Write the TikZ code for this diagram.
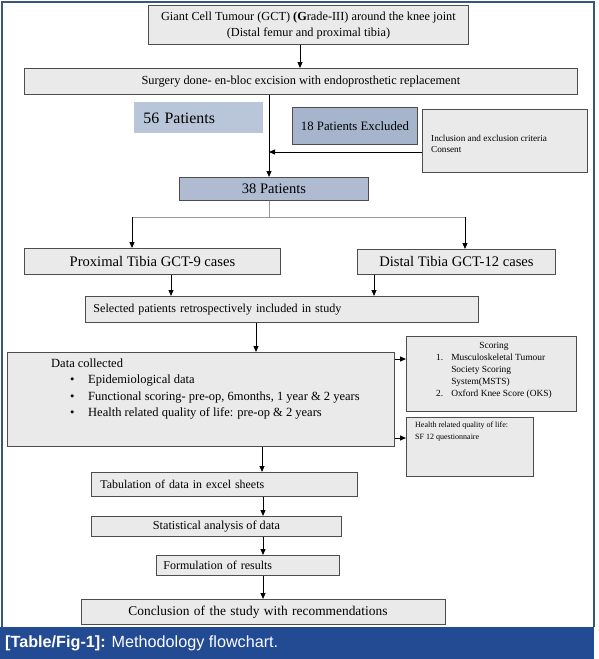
\documentclass[tikz,border=0pt]{standalone}
\usepackage{fontspec}
\setmainfont{Liberation Serif}
\newfontfamily\capfont{Liberation Sans}
\usetikzlibrary{arrows.meta,calc}
\definecolor{boxfill}{HTML}{EAEAEA}
\definecolor{boxline}{HTML}{4D4D4D}
\definecolor{blueA}{HTML}{B9C5D8}
\definecolor{blueB}{HTML}{A7B5CC}
\definecolor{blueC}{HTML}{AEBBD1}
\definecolor{framec}{HTML}{38557D}
\definecolor{bandc}{HTML}{234B94}
\newcommand\fsz[2]{\fontsize{#1}{#2}\selectfont}
\begin{document}
\begin{tikzpicture}[x=1pt,y=-1pt,
  box/.style={draw=boxline, fill=boxfill, line width=0.9pt, inner sep=0pt, anchor=north west, text=black},
  arr/.style={-{Triangle[length=6pt,width=5pt]}, line width=1pt, black},
  thinl/.style={line width=0.6pt, draw=gray!80},
  txt/.style={inner sep=0pt, anchor=north west, align=left, text=black},
]
\useasboundingbox (0,0) rectangle (598,659);
\fill[white] (0,0) rectangle (598,659);
\fill[bandc] (0,627) rectangle (594,659);
\draw[framec, line width=1.2pt] (2,627) -- (2,2) -- (594,2) -- (594,627);

\node[box, minimum width=320pt, minimum height=39pt, font=\fsz{12.3}{16}] (top) at (148,5)
  {\raisebox{-3.5pt}{\begin{tabular}{@{}c@{}}Giant Cell Tumour (GCT) \textbf{(G}rade-III) around the knee joint\\(Distal femur and proximal tibia)\end{tabular}}};
\node[box, minimum width=553pt, minimum height=26pt, font=\fsz{12.35}{14}] (surg) at (24,68)
  {Surgery done- en-bloc excision with endoprosthetic replacement};
\node[box, draw=none, fill=blueA, minimum height=31pt, inner xsep=9pt, text width=111pt, align=left, font=\fsz{15.9}{17}] (p56) at (134,102)
  {56 Patients};
\node[box, fill=blueB, minimum width=125pt, minimum height=37pt, font=\fsz{12.8}{14}] (ex18) at (292,107)
  {18 Patients Excluded};
\node[box, minimum width=165pt, minimum height=63pt] (incl) at (422,109) {};
\node[txt, font=\fsz{9.2}{11}] (incltxt) at (431,134.5) {Inclusion and exclusion criteria\\Consent};
\node[box, fill=blueC, minimum width=189pt, minimum height=23pt, font=\fsz{14.5}{15}] (p38) at (179,177)
  {38 Patients};
\node[box, minimum width=256pt, minimum height=26pt, font=\fsz{14.6}{16}] (prox) at (24,248)
  {Proximal Tibia GCT-9 cases};
\node[box, minimum width=198pt, minimum height=25pt, font=\fsz{14.6}{16}] (dist) at (357,249)
  {Distal Tibia GCT-12 cases};
\node[box, minimum height=26pt, inner xsep=8pt, text width=377pt, align=left, font=\fsz{12.1}{13}] (sel) at (85,296)
  {Selected patients retrospectively included in study};
\node[box, minimum width=387pt, minimum height=94pt] (data) at (7,352) {};
\node[txt, font=\fsz{12.5}{16.5}] (datatxt) at (51,358.5)
  {Data collected\\
   \hspace*{19pt}\makebox[18pt][l]{\textbullet}Epidemiological data\\
   \hspace*{19pt}\makebox[18pt][l]{\textbullet}Functional scoring- pre-op, 6months, 1 year \& 2 years\\
   \hspace*{19pt}\makebox[18pt][l]{\textbullet}Health related quality of life: pre-op \& 2 years};
\node[box, minimum width=170pt, minimum height=75pt] (scor) at (406,336) {};
\node[txt, font=\fsz{9.4}{12}] (scortxt) at (436,340)
  {\begin{tabular}{@{}r@{\hspace{8pt}}l@{}}
   \multicolumn{2}{c}{Scoring}\\
   1. & Musculoskeletal Tumour\\
      & Society Scoring\\
      & System(MSTS)\\
   2. & Oxford Knee Score (OKS)
   \end{tabular}};
\node[box, minimum width=127pt, minimum height=59pt] (hlth) at (406,417) {};
\node[txt, font=\fsz{8}{11.7}] (hlthtxt) at (415,421.5) {Health related quality of life:\\SF 12 questionnaire};
\node[box, minimum height=24pt, inner xsep=9pt, text width=248pt, align=left, font=\fsz{11.9}{14}] (tab) at (91,472)
  {Tabulation of data in excel sheets};
\node[box, minimum width=250pt, minimum height=20pt, font=\fsz{12.2}{13}] (stat) at (91,516)
  {Statistical analysis of data};
\node[box, minimum height=20pt, inner xsep=7pt, text width=169pt, align=left, font=\fsz{12}{14}] (form) at (156,555)
  {Formulation of results};
\node[box, minimum height=25pt, inner xsep=47pt, text width=270pt, align=left, font=\fsz{13.4}{15}] (concl) at (81,599)
  {Conclusion of the study with recommendations};

\node[inner sep=0pt, anchor=west, text=white, font=\capfont\fsz{16.2}{18}] (cap) at (5,643)
  {\textbf{[Table/Fig-1]:} Methodology flowchart.};

% connectors
\coordinate (x300) at (300,0);
\coordinate (x269) at (269,0);
\coordinate (j) at (269,152);
\coordinate (br) at (269,217);
\coordinate (bl) at (132,217);
\coordinate (brr) at (465,217);
\coordinate (x171) at (171,0);
\coordinate (x374) at (374,0);
\coordinate (x256) at (256,0);
\coordinate (x262) at (262,0);
\coordinate (x263) at (263,0);
\coordinate (y359) at (0,359);
\coordinate (y438) at (0,438);

\draw[arr] (top.south -| x300) -- (surg.north -| x300);
\draw[arr] (surg.south -| x269) -- (p38.north -| x269);
\draw[arr] (incl.west |- j) -- (j);
\draw[thinl] (p38.south -| br) -- (br);
\draw[thinl] (bl) -- (brr);
\draw[arr] (bl) -- (bl |- prox.north);
\draw[arr] (brr) -- (brr |- dist.north);
\draw[arr] (prox.south -| x171) -- (sel.north -| x171);
\draw[arr] (dist.south -| x374) -- (sel.north -| x374);
\draw[arr] (sel.south -| x256) -- (data.north -| x256);
\draw[arr] (data.east |- y359) -- (scor.west |- y359);
\draw[arr] (data.east |- y438) -- (hlth.west |- y438);
\draw[arr] (data.south -| x262) -- (tab.north -| x262);
\draw[arr] (tab.south -| x263) -- (stat.north -| x263);
\draw[arr] (stat.south -| x263) -- (form.north -| x263);
\draw[arr] (form.south -| x263) -- (concl.north -| x263);
\end{tikzpicture}
\end{document}
